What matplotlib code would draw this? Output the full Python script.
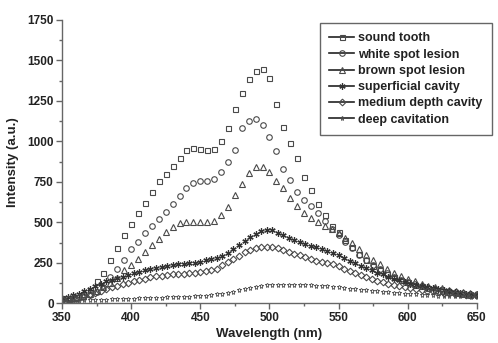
import numpy as np
import matplotlib.pyplot as plt
from matplotlib.lines import Line2D

plt.rcParams['font.family'] = ['Liberation Sans', 'DejaVu Sans']

# wavelength grids (nm)
wl_5 = np.arange(350, 651, 5)
wl_4 = np.arange(350, 651, 4)

# intensities (a.u.)
sound_tooth = [30, 35, 42, 55, 85, 135, 190, 265, 340, 420,
               490, 555, 620, 690, 755, 800, 850, 900, 945, 960,
               955, 950, 955, 1000, 1085, 1200, 1300, 1385, 1435, 1448,
               1390, 1230, 1090, 990, 900, 780, 700, 615, 545, 480,
               440, 390, 345, 305, 265, 230, 205, 180, 160, 145,
               130, 115, 105, 95, 85, 78, 70, 62, 57, 52,
               50]
white_spot = [20, 22, 28, 38, 52, 70, 100, 160, 215, 265,
              335, 380, 435, 480, 520, 565, 615, 665, 715, 745,
              755, 755, 770, 810, 870, 950, 1080, 1125, 1140, 1100,
              1025, 940, 830, 760, 690, 640, 600, 560, 510, 460,
              420, 380, 340, 300, 265, 235, 210, 185, 165, 145,
              130, 118, 105, 95, 87, 80, 73, 68, 63, 60,
              57]
brown_spot = [20, 25, 35, 45, 60, 75, 100, 125, 155, 205,
              235, 275, 320, 360, 400, 440, 470, 495, 505, 505,
              500, 505, 510, 545, 595, 670, 740, 805, 845, 845,
              810, 755, 710, 650, 600, 560, 530, 505, 480, 460,
              435, 405, 370, 335, 300, 270, 240, 215, 190, 170,
              150, 135, 120, 110, 100, 92, 85, 78, 70, 65,
              60]
superficial = [35, 40, 50, 60, 75, 90, 105, 120, 135, 145,
               155, 165, 175, 185, 195, 205, 212, 218, 225, 232,
               238, 242, 245, 248, 252, 258, 265, 272, 280, 290,
               310, 335, 360, 385, 410, 430, 448, 455, 450, 435,
               420, 405, 390, 378, 365, 355, 345, 335, 325, 310,
               298, 280, 262, 248, 233, 218, 203, 190, 178, 165,
               152, 142, 132, 122, 113, 106, 98, 92, 86, 80,
               75, 70, 65, 60, 55, 52]
medium_depth = [25, 28, 32, 38, 45, 55, 65, 75, 88, 98,
                108, 118, 128, 138, 147, 153, 160, 166, 171, 175,
                178, 180, 182, 185, 188, 192, 198, 205, 215, 235,
                255, 275, 295, 315, 330, 340, 347, 350, 347, 340,
                330, 318, 307, 296, 285, 273, 263, 255, 250, 243,
                232, 215, 200, 185, 172, 160, 150, 140, 130, 122,
                115, 108, 100, 95, 88, 83, 78, 73, 70, 66,
                62, 59, 56, 53, 51, 50]
deep_cavitation = [15, 15, 16, 17, 18, 19, 20, 21, 22, 24,
                   25, 26, 28, 29, 30, 31, 33, 34, 35, 36,
                   38, 39, 40, 42, 44, 46, 48, 51, 55, 60,
                   66, 72, 80, 88, 95, 102, 108, 112, 115, 116,
                   116, 115, 115, 114, 113, 112, 110, 108, 105, 102,
                   98, 95, 91, 88, 84, 80, 76, 73, 70, 67,
                   64, 61, 59, 57, 55, 53, 51, 50, 48, 47,
                   46, 45, 44, 43, 42, 41]

labels = ['sound tooth', 'white spot lesion', 'brown spot lesion',
          'superficial cavity', 'medium depth cavity', 'deep cavitation']

ec = '#4a4a4a'
series = [
    (wl_5, sound_tooth, dict(marker='s', ms=3.6, mfc='none', mec=ec, mew=0.8)),
    (wl_5, white_spot, dict(marker='o', ms=4.0, mfc='none', mec=ec, mew=0.8)),
    (wl_5, brown_spot, dict(marker='^', ms=4.2, mfc='none', mec=ec, mew=0.8)),
    (wl_4, superficial, dict(marker=(6, 2, 0), ms=4.5, mfc='#333', mec='#333', mew=0.9)),
    (wl_4, medium_depth, dict(marker='D', ms=3.4, mfc='none', mec=ec, mew=0.8)),
    (wl_4, deep_cavitation, dict(marker='*', ms=3.6, mfc='none', mec=ec, mew=0.6)),
]

fig = plt.figure(figsize=(4.98, 3.43), dpi=100)
ax = fig.add_axes([0.1245, 0.1157, 0.833, 0.826])

handles = []
for (x, y, st), lab in zip(series, labels):
    ax.plot(x, y, linestyle='none', **st)
    handles.append(Line2D([], [], color='#222', lw=1.2, **st))

ax.set_xlim(350, 650)
ax.set_ylim(0, 1750)
ax.set_xticks(np.arange(350, 651, 50))
ax.set_xticks(np.arange(350, 651, 25), minor=True)
ax.set_yticks(np.arange(0, 1751, 250))
ax.set_yticks(np.arange(0, 1751, 125), minor=True)

for s in ['top', 'right']:
    ax.spines[s].set_visible(False)
for s in ['left', 'bottom']:
    ax.spines[s].set_color('#666')
    ax.spines[s].set_linewidth(1.0)
ax.tick_params(which='major', direction='out', length=4, width=1, color='#666',
               labelsize=8.5, pad=2)
ax.tick_params(which='minor', direction='out', length=2, width=1, color='#666')
for t in ax.get_xticklabels() + ax.get_yticklabels():
    t.set_fontweight('bold')
    t.set_color('#222')

ax.set_xlabel('Wavelength (nm)', fontsize=9.5, fontweight='bold', color='#222', labelpad=3)
ax.set_ylabel('Intensity (a.u.)', fontsize=9.5, fontweight='bold', color='#222', labelpad=6)

leg = ax.legend(handles, labels, loc='upper left',
                bbox_to_anchor=(320 / 498, 1 - 23 / 343),
                bbox_transform=fig.transFigure, fancybox=False,
                borderaxespad=0, edgecolor='#666', framealpha=1,
                handlelength=2.0, handletextpad=0.3, labelspacing=0.34,
                borderpad=0.75, prop=dict(size=9, weight='bold'))
leg.get_frame().set_linewidth(1.0)
for t in leg.get_texts():
    t.set_color('#222')

fig.savefig('out.png', dpi=100)
